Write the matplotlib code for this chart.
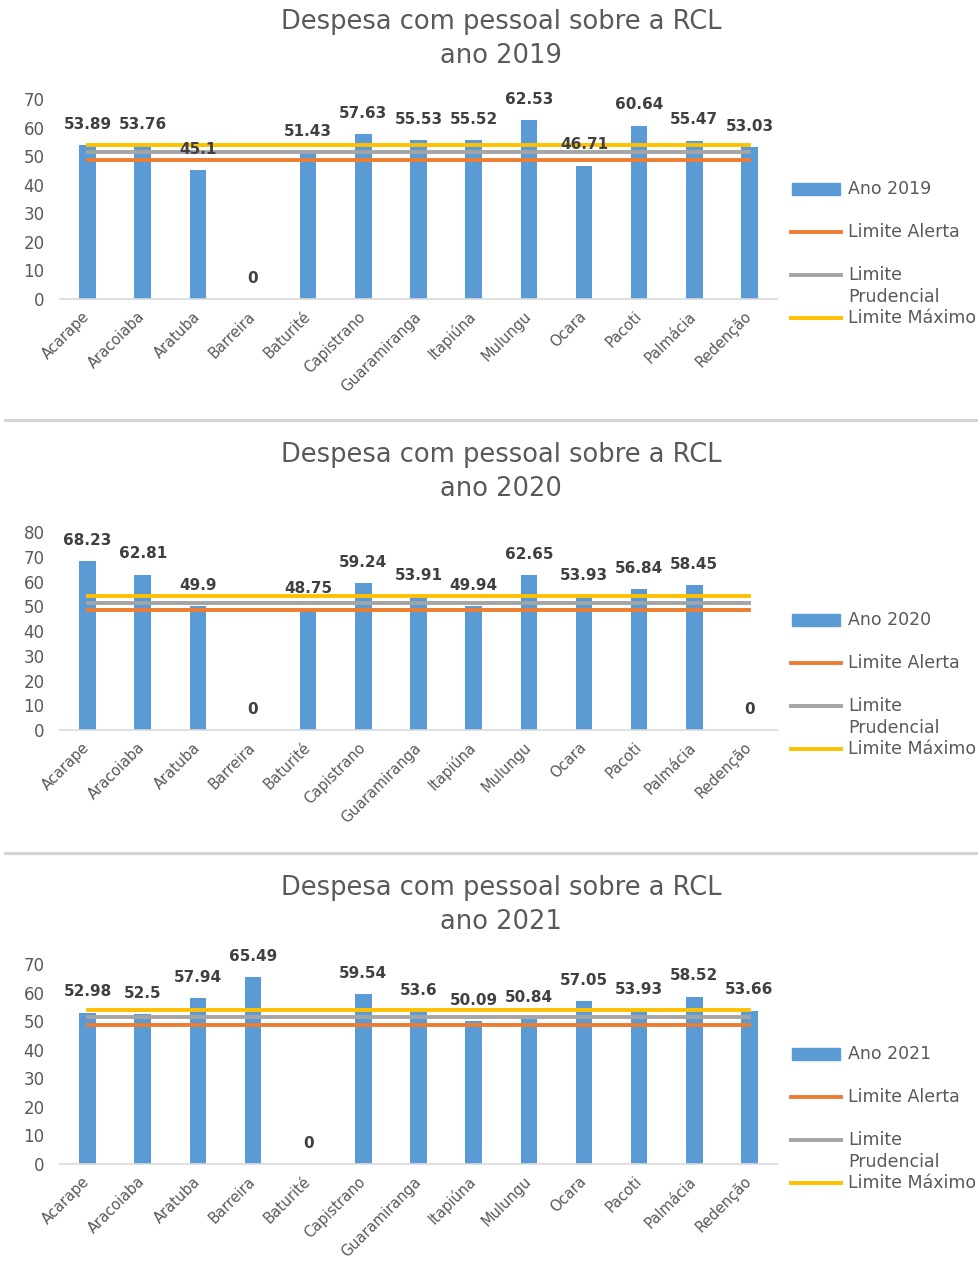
import matplotlib
matplotlib.use("Agg")
import matplotlib.pyplot as plt
from matplotlib.lines import Line2D
from matplotlib.patches import Rectangle
from matplotlib.transforms import ScaledTranslation

plt.rcParams['font.family'] = ['DejaVu Sans']

municipios = ['Acarape', 'Aracoiaba', 'Aratuba', 'Barreira', 'Baturité', 'Capistrano',
              'Guaramiranga', 'Itapiúna', 'Mulungu', 'Ocara', 'Pacoti', 'Palmácia', 'Redenção']
anos = ['2019', '2020', '2021']
valores_2019 = [53.89, 53.76, 45.1, 0, 51.43, 57.63, 55.53, 55.52, 62.53, 46.71, 60.64, 55.47, 53.03]
valores_2020 = [68.23, 62.81, 49.9, 0, 48.75, 59.24, 53.91, 49.94, 62.65, 53.93, 56.84, 58.45, 0]
valores_2021 = [52.98, 52.5, 57.94, 65.49, 0, 59.54, 53.6, 50.09, 50.84, 57.05, 53.93, 58.52, 53.66]
limite_alerta = 48.6
limite_prudencial = 51.3
limite_maximo = 54.0
y_max = [70, 80, 70]

W, H = 979, 1261
def fx(x):
    return x / W
def fy(y):
    return 1 - y / H

azul = '#5B9BD5'
laranja = '#ED7D31'
cinza = '#A5A5A5'
amarelo = '#FFC000'
cor_texto = '#595959'

fig = plt.figure(figsize=(W / 100, H / 100), dpi=100)

# (baseline y, top y, title y) of each panel in pixels
paineis = [(299, 99, 22), (730, 532, 455), (1164, 964, 888)]
series = [valores_2019, valores_2020, valores_2021]

for k, (valores, ano) in enumerate(zip(series, anos)):
    y0, ytop, yt = paineis[k]
    ax = fig.add_axes([fx(60), fy(y0), fx(777) - fx(60), (y0 - ytop) / H])
    x = list(range(len(municipios)))
    ax.bar(x, valores, width=0.3, color=azul, zorder=2)
    ax.plot(x, [limite_alerta] * len(x), color=laranja, lw=2.8, zorder=3)
    ax.plot(x, [limite_prudencial] * len(x), color=cinza, lw=2.8, zorder=3)
    ax.plot(x, [limite_maximo] * len(x), color=amarelo, lw=2.8, zorder=3)
    for i, v in enumerate(valores):
        ax.annotate(f"{v:g}", (i, v), xytext=(0, 15), textcoords='offset points',
                    ha='center', va='center', fontsize=11, fontweight='bold',
                    color='#404040', zorder=5, annotation_clip=False)
    ax.set_xlim(-0.5, len(x) - 0.5)
    ax.set_ylim(0, y_max[k])
    ax.set_yticks(range(0, y_max[k] + 1, 10))
    ax.set_xticks(x)
    ax.set_xticklabels(municipios, rotation=45, ha='right', va='center',
                       rotation_mode='anchor', fontsize=10.5, color=cor_texto)
    for lbl in ax.get_xticklabels():
        lbl.set_transform(lbl.get_transform() + ScaledTranslation(0.1, 0, fig.dpi_scale_trans))
    ax.tick_params(axis='x', length=0, pad=11)
    ax.tick_params(axis='y', length=0, pad=11, labelsize=12, labelcolor=cor_texto)
    for s in ['top', 'right', 'left']:
        ax.spines[s].set_visible(False)
    ax.spines['bottom'].set_color('#d9d9d9')
    ax.spines['bottom'].set_linewidth(1.2)

    fig.text(fx(501), fy(yt), 'Despesa com pessoal sobre a RCL', ha='center', va='center',
             fontsize=18.5, color=cor_texto)
    fig.text(fx(501), fy(yt + 34), 'ano ' + ano, ha='center', va='center',
             fontsize=18.5, color=cor_texto)

    # legend
    ly = [y0 - 110, y0 - 67, y0 - 24, y0 + 19]
    fig.add_artist(Rectangle((fx(792), fy(ly[0] + 6)), fx(840) - fx(792), 12 / H,
                             transform=fig.transFigure, color=azul))
    for yy, cor in zip(ly[1:], [laranja, cinza, amarelo]):
        fig.add_artist(Line2D([fx(791), fx(841)], [fy(yy), fy(yy)], transform=fig.transFigure,
                              color=cor, lw=2.8))
    rotulos = ['Ano ' + ano, 'Limite Alerta', 'Limite\nPrudencial', 'Limite Máximo']
    for yy, r in zip(ly, rotulos):
        if '\n' in r:
            fig.text(fx(848), fy(yy + 11), r, ha='left', va='center', fontsize=12.5,
                     color=cor_texto, linespacing=1.25)
        else:
            fig.text(fx(848), fy(yy), r, ha='left', va='center', fontsize=12.5, color=cor_texto)

# separators between panels
for ys in [420, 853]:
    fig.add_artist(Line2D([fx(5), 1], [fy(ys), fy(ys)], transform=fig.transFigure,
                          color='#d4d4d4', lw=2.2))

fig.savefig('out.png', dpi=100, facecolor='white')
